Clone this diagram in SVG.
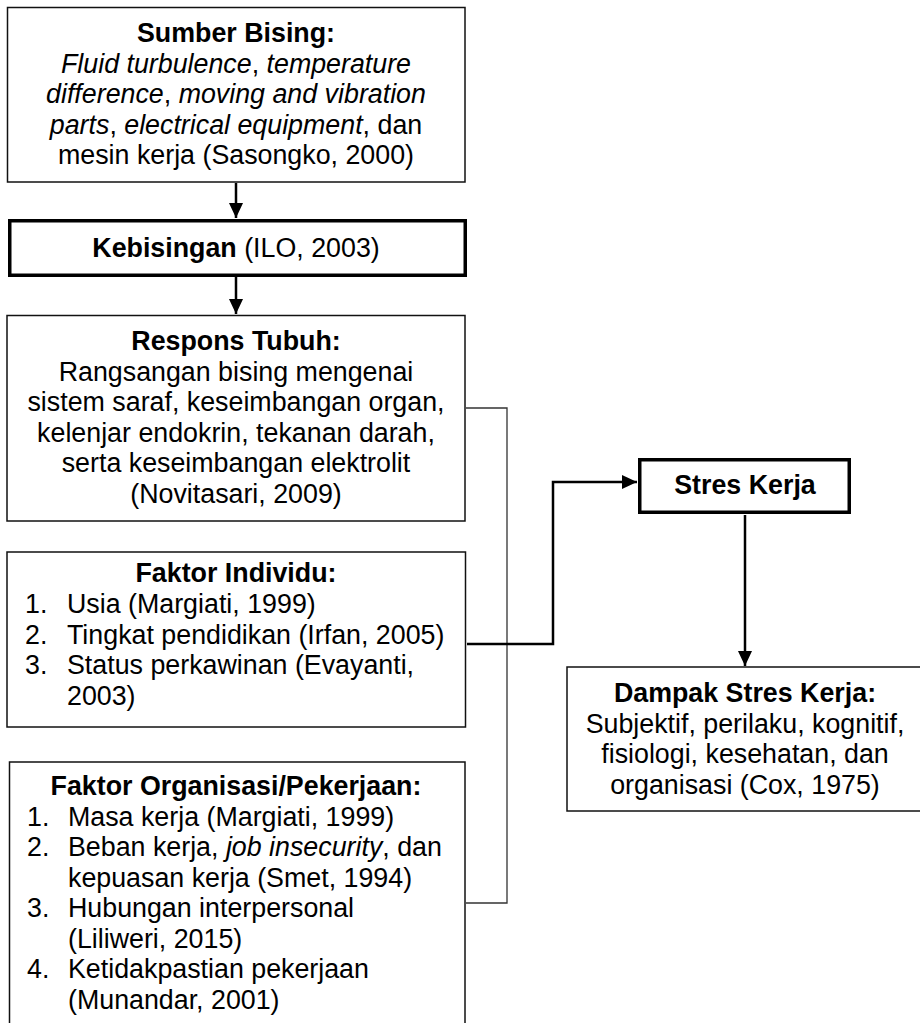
<svg xmlns="http://www.w3.org/2000/svg" width="920" height="1023" viewBox="0 0 920 1023">
<style>
text{font-family:"Liberation Sans",Arial,sans-serif;font-size:26.8px;fill:#000}
.c{text-anchor:middle}
.b{font-weight:bold}
.i{font-style:italic}
.box{fill:#fff;stroke:#111;stroke-width:1.5}
.thick{fill:#fff;stroke:#000;stroke-width:3.5}
.con{fill:none;stroke:#000;stroke-width:2.5}
.thin{fill:none;stroke:#333;stroke-width:1.3}
</style>
<defs>
<marker id="ah" markerUnits="userSpaceOnUse" markerWidth="15" markerHeight="14" refX="15" refY="7" orient="auto">
<path d="M0,0 L15,7 L0,14 z" fill="#000"/>
</marker>
</defs>
<rect width="920" height="1023" fill="#fff"/>
<g id="connectors">
<path class="con" d="M236,183 V218" marker-end="url(#ah)"/>
<path class="con" d="M236,277 V314" marker-end="url(#ah)"/>
<path class="thin" d="M466,408 H507 V903 H466"/>
<path class="con" d="M467,644 H553 V482 H637" marker-end="url(#ah)"/>
<path class="con" d="M745,515 V666" marker-end="url(#ah)"/>
</g>
<g id="sumber">
<rect class="box" x="7.5" y="7.5" width="457.5" height="174.5"/>
<text class="c b" x="236" y="42">Sumber Bising:</text>
<text class="c" x="236" y="72.5"><tspan class="i">Fluid turbulence</tspan>, <tspan class="i">temperature</tspan></text>
<text class="c" x="236" y="103"><tspan class="i">difference</tspan>, <tspan class="i">moving and vibration</tspan></text>
<text class="c" x="236" y="133.5"><tspan class="i">parts</tspan>, <tspan class="i">electrical equipment</tspan>, dan</text>
<text class="c" x="236" y="164">mesin kerja (Sasongko, 2000)</text>
</g>
<g id="kebisingan">
<rect class="thick" x="9.75" y="220.75" width="455.5" height="54.5"/>
<text class="c" x="236" y="257"><tspan class="b">Kebisingan</tspan> (ILO, 2003)</text>
</g>
<g id="respons">
<rect class="box" x="7" y="315.5" width="458" height="205.5"/>
<text class="c b" x="236" y="350">Respons Tubuh:</text>
<text class="c" x="236" y="380.5">Rangsangan bising mengenai</text>
<text class="c" x="236" y="411">sistem saraf, keseimbangan organ,</text>
<text class="c" x="236" y="441.5">kelenjar endokrin, tekanan darah,</text>
<text class="c" x="236" y="472">serta keseimbangan elektrolit</text>
<text class="c" x="236" y="502.5">(Novitasari, 2009)</text>
</g>
<g id="individu">
<rect class="box" x="7" y="552" width="458.5" height="175"/>
<text class="c b" x="236" y="582">Faktor Individu:</text>
<text x="25" y="613">1.</text><text x="67" y="613">Usia (Margiati, 1999)</text>
<text x="25" y="643.5">2.</text><text x="67" y="643.5">Tingkat pendidikan (Irfan, 2005)</text>
<text x="25" y="674">3.</text><text x="67" y="674">Status perkawinan (Evayanti,</text>
<text x="67" y="704.5">2003)</text>
</g>
<g id="organisasi">
<rect class="box" x="9.5" y="762" width="455.5" height="280"/>
<text class="c b" x="236" y="795">Faktor Organisasi/Pekerjaan:</text>
<text x="27" y="825.5">1.</text><text x="68" y="825.5">Masa kerja (Margiati, 1999)</text>
<text x="27" y="856">2.</text><text x="68" y="856">Beban kerja, <tspan class="i">job insecurity</tspan>, dan</text>
<text x="68" y="886.5">kepuasan kerja (Smet, 1994)</text>
<text x="27" y="917">3.</text><text x="68" y="917">Hubungan interpersonal</text>
<text x="68" y="947.5">(Liliweri, 2015)</text>
<text x="27" y="978">4.</text><text x="68" y="978">Ketidakpastian pekerjaan</text>
<text x="68" y="1008.5">(Munandar, 2001)</text>
</g>
<g id="stres">
<rect class="thick" x="639.75" y="459.75" width="209.5" height="52.5"/>
<text class="c b" x="745" y="494">Stres Kerja</text>
</g>
<g id="dampak">
<rect class="box" x="567" y="667" width="370" height="144"/>
<text class="c b" x="745" y="702">Dampak Stres Kerja:</text>
<text class="c" x="745" y="732.5">Subjektif, perilaku, kognitif,</text>
<text class="c" x="745" y="763">fisiologi, kesehatan, dan</text>
<text class="c" x="745" y="793.5">organisasi (Cox, 1975)</text>
</g>
</svg>
